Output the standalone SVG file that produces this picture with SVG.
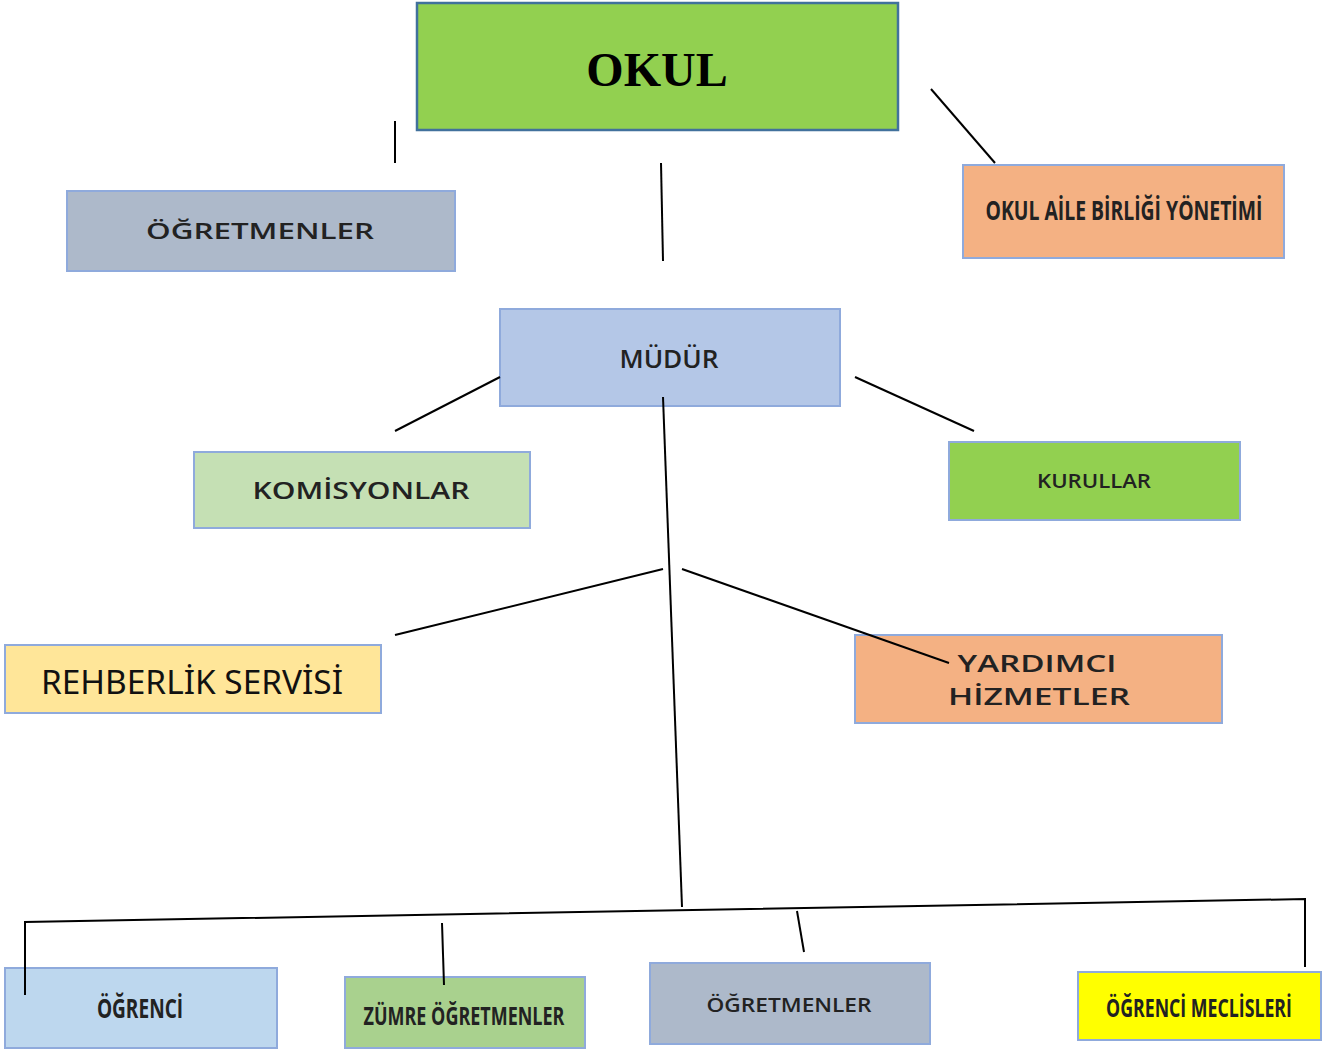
<svg xmlns="http://www.w3.org/2000/svg" width="1330" height="1050" viewBox="0 0 1330 1050">
<style>
.box{stroke:#8FAADC;stroke-width:2}
.t{font-family:"Open Sans","DejaVu Sans",sans-serif;font-weight:600;fill:#222;text-anchor:middle}
.c{font-family:"Open Sans","DejaVu Sans",sans-serif;font-weight:700;fill:#222;text-anchor:middle}
.ln{stroke:#000;stroke-width:2;fill:none}
</style>
<rect width="1330" height="1050" fill="#fff"/>
<g id="okul">
<rect x="417" y="3" width="481" height="127" fill="#92D050" stroke="#41719C" stroke-width="2.5"/>
<text x="657" y="86" font-family="Liberation Serif,serif" font-weight="700" font-size="48" text-anchor="middle" fill="#000">OKUL</text>
</g>
<g id="ogretmenler-top">
<rect class="box" x="67" y="191" width="388" height="80" fill="#ADB9CA"/>
<text class="t" x="260" y="239" font-size="22" textLength="228" lengthAdjust="spacingAndGlyphs">ÖĞRETMENLER</text>
</g>
<g id="okul-aile">
<rect class="box" x="963" y="165" width="321" height="93" fill="#F4B183"/>
<g transform="translate(1124,220) scale(0.65,1)">
<text class="c" x="0" y="0" font-size="26" textLength="426" lengthAdjust="spacingAndGlyphs">OKUL AİLE BİRLİĞİ YÖNETİMİ</text>
</g>
</g>
<g id="mudur">
<rect class="box" x="500" y="309" width="340" height="97" fill="#B4C7E7" stroke="#6F8FC8"/>
<text class="t" x="669" y="368" font-size="26" textLength="99" lengthAdjust="spacingAndGlyphs">MÜDÜR</text>
</g>
<g id="komisyonlar">
<rect class="box" x="194" y="452" width="336" height="76" fill="#C5E0B4"/>
<text class="t" x="361" y="499" font-size="24" textLength="217" lengthAdjust="spacingAndGlyphs">KOMİSYONLAR</text>
</g>
<g id="kurullar">
<rect class="box" x="949" y="442" width="291" height="78" fill="#92D050"/>
<text class="t" x="1094" y="488" font-size="20" textLength="114" lengthAdjust="spacingAndGlyphs">KURULLAR</text>
</g>
<g id="rehberlik">
<rect class="box" x="5" y="645" width="376" height="68" fill="#FFE699"/>
<text x="192" y="694" font-family="Noto Sans,Open Sans,sans-serif" font-size="32" fill="#111" text-anchor="middle" textLength="302" lengthAdjust="spacingAndGlyphs">REHBERLİK SERVİSİ</text>
</g>
<g id="yardimci">
<rect class="box" x="855" y="635" width="367" height="88" fill="#F4B183"/>
<text class="t" x="1037" y="672" font-size="24" textLength="159" lengthAdjust="spacingAndGlyphs">YARDIMCI</text>
<text class="t" x="1039" y="705" font-size="24" textLength="182" lengthAdjust="spacingAndGlyphs">HİZMETLER</text>
</g>
<g id="ogrenci">
<rect class="box" x="5" y="968" width="272" height="80" fill="#BDD7EE" stroke="#7F9FD0"/>
<g transform="translate(140,1018) scale(0.69,1)">
<text class="c" x="0" y="0" font-size="26" textLength="125" lengthAdjust="spacingAndGlyphs">ÖĞRENCİ</text>
</g>
</g>
<g id="zumre">
<rect class="box" x="345" y="977" width="240" height="71" fill="#A9D18E"/>
<g transform="translate(464,1025) scale(0.72,1)">
<text class="c" x="0" y="0" font-size="25" textLength="279" lengthAdjust="spacingAndGlyphs">ZÜMRE ÖĞRETMENLER</text>
</g>
</g>
<g id="ogretmenler-bottom">
<rect class="box" x="650" y="963" width="280" height="81" fill="#ADB9CA"/>
<text class="t" x="789" y="1012" font-size="20" textLength="165" lengthAdjust="spacingAndGlyphs">ÖĞRETMENLER</text>
</g>
<g id="meclis">
<rect class="box" x="1078" y="972" width="243" height="68" fill="#FFFF00" stroke="#C9D6A0"/>
<g transform="translate(1199,1017) scale(0.63,1)">
<text class="c" x="0" y="0" font-size="25" textLength="295" lengthAdjust="spacingAndGlyphs">ÖĞRENCİ MECLİSLERİ</text>
</g>
</g>
<g id="connectors">
<line class="ln" x1="395" y1="121" x2="395" y2="163"/>
<line class="ln" x1="661" y1="163" x2="663" y2="261"/>
<line class="ln" x1="931" y1="89" x2="995" y2="163"/>
<line class="ln" x1="500" y1="377" x2="395" y2="431"/>
<line class="ln" x1="855" y1="377" x2="974" y2="431"/>
<line class="ln" x1="663" y1="397" x2="682" y2="907"/>
<line class="ln" x1="395" y1="635" x2="663" y2="569"/>
<line class="ln" x1="682" y1="569" x2="949" y2="663"/>
<polyline class="ln" points="25,995 25,922 1305,899 1305,967"/>
<line class="ln" x1="442" y1="923" x2="444" y2="985"/>
<line class="ln" x1="797" y1="911" x2="804" y2="952"/>
</g>
</svg>
